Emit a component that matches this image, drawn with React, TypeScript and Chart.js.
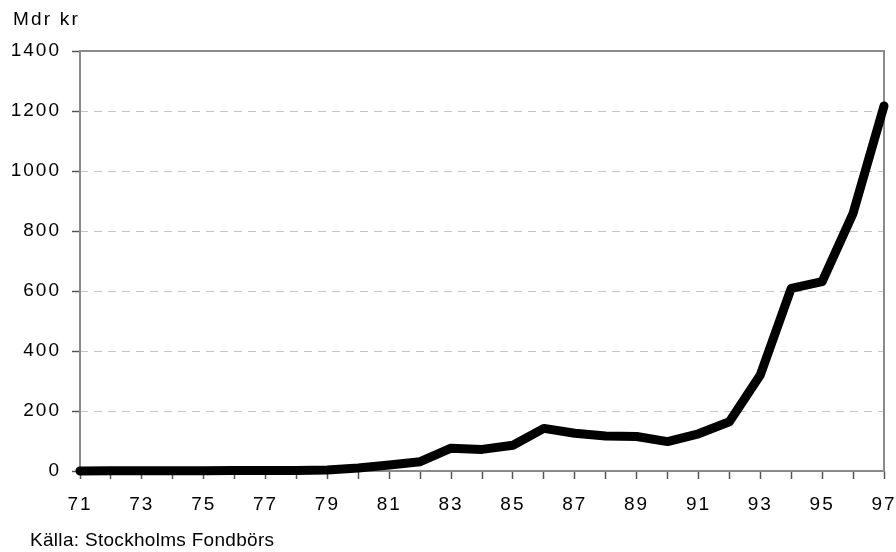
import React, { useEffect, useRef } from "react";
import { Chart, registerables } from "chart.js";

Chart.register(...registerables);

const years = [71, 72, 73, 74, 75, 76, 77, 78, 79, 80, 81, 82, 83, 84, 85, 86, 87, 88, 89, 90, 91, 92, 93, 94, 95, 96, 97];
const values = [0, 1, 1, 1, 1, 2, 2, 2, 3, 10, 20, 31, 76, 72, 86, 142, 126, 117, 115, 98, 124, 164, 320, 609, 631, 859, 1217];
const yTicks = [0, 200, 400, 600, 800, 1000, 1200, 1400];
const yUnit = "Mdr kr";
const source = "Källa: Stockholms Fondbörs";

const FONT = "'Liberation Sans', Arial, sans-serif";

const frame = {
  id: "frame",
  beforeDraw(chart: any) {
    (chart.ctx as any).letterSpacing = "2px";
  },
  beforeDatasetsDraw(chart: any) {
    const { ctx, chartArea } = chart;
    ctx.save();
    ctx.strokeStyle = "#8a8a8a";
    ctx.lineWidth = 2;
    ctx.strokeRect(chartArea.left, chartArea.top, chartArea.right - chartArea.left, chartArea.bottom - chartArea.top);
    ctx.restore();
  },
};

export default function App() {
  const ref = useRef<HTMLCanvasElement>(null);
  useEffect(() => {
    document.body.style.margin = "0";
    const chart = new Chart(ref.current!, {
      type: "line",
      data: {
        datasets: [
          {
            data: years.map((y, i) => ({ x: y, y: values[i] })),
            borderColor: "#000",
            borderWidth: 9,
            pointRadius: 0,
            tension: 0,
            borderCapStyle: "round",
            borderJoinStyle: "round",
            clip: false as any,
          },
        ],
      },
      options: {
        animation: false,
        responsive: false,
        maintainAspectRatio: false,
        layout: { padding: { top: 51, right: 0, left: 0, bottom: 0 } },
        plugins: { legend: { display: false }, tooltip: { enabled: false } },
        scales: {
          x: {
            type: "linear",
            min: 71,
            max: 97,
            afterFit: (s: any) => {
              s.height = 81;
              s.paddingRight = 12;
              s.paddingLeft = 0;
            },
            afterBuildTicks: (s: any) => {
              s.ticks = years.map((v) => ({ value: v }));
            },
            ticks: {
              autoSkip: false,
              maxRotation: 0,
              padding: 14,
              color: "#000",
              font: { family: FONT, size: 19 },
              callback: (v: any) => (Number(v) % 2 === 1 ? String(v) : ""),
            },
            grid: { drawOnChartArea: false, tickLength: 8, tickColor: "#555", tickWidth: 1.5 },
            border: { display: false },
          },
          y: {
            min: 0,
            max: 1400,
            afterFit: (s: any) => {
              s.width = 80;
              s.paddingTop = 0;
              s.paddingBottom = 0;
            },
            afterBuildTicks: (s: any) => {
              s.ticks = yTicks.map((v) => ({ value: v }));
            },
            ticks: {
              padding: 11,
              color: "#000",
              font: { family: FONT, size: 19 },
              callback: (v: any) => String(v),
            },
            grid: {
              color: (c: any) => (c.tick && (c.tick.value === 0 || c.tick.value === 1400) ? "rgba(0,0,0,0)" : "#c4c4c4"),
              tickColor: "#555",
              tickLength: 8,
              lineWidth: 1,
              tickWidth: 1.5,
            },
            border: { display: false, dash: [8, 6] },
          },
        },
      },
      plugins: [frame],
    });
    return () => chart.destroy();
  }, []);

  return (
    <div style={{ position: "relative", width: 896, height: 552, fontFamily: FONT, background: "#fff" }}>
      <canvas ref={ref} width={896} height={552} style={{ display: "block" }} />
      <div style={{ position: "absolute", left: 13, top: 8, fontSize: 19, letterSpacing: 2.2, color: "#000", whiteSpace: "nowrap" }}>{yUnit}</div>
      <div style={{ position: "absolute", left: 30, top: 529, fontSize: 19, letterSpacing: 0.3, color: "#000", whiteSpace: "nowrap" }}>{source}</div>
    </div>
  );
}
